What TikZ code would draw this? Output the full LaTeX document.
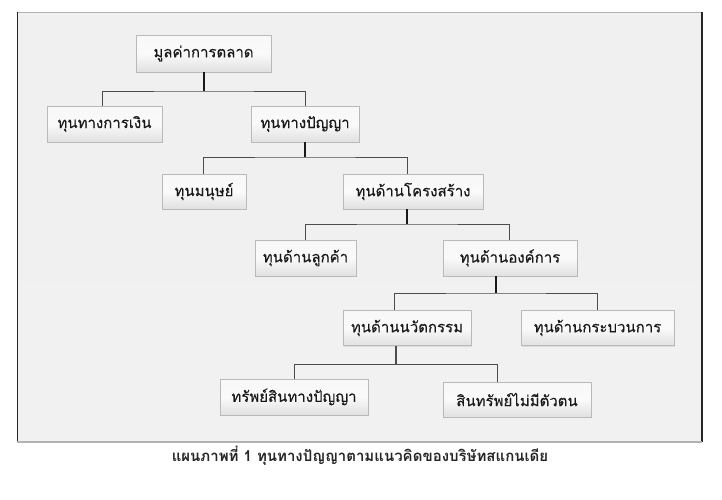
\documentclass[tikz,border=0pt]{standalone}
\usepackage{fontspec}
\newfontfamily\thai[Script=Thai]{Loma}
\newfontfamily\thaibox[Script=Thai,FakeBold=0.25]{Loma}
\usetikzlibrary{shadows,calc}
\tikzset{
  box/.style={rectangle, draw=gray!55, line width=0.6pt, inner sep=0pt,
    top color=gray!6, bottom color=gray!24, middle color=gray!4,
    text=black!90, font=\thaibox\fontsize{15}{18}\selectfont,
    drop shadow={opacity=0.18, shadow xshift=1pt, shadow yshift=-1.2pt}},
  pline/.style={line width=1.8pt, black!90},
  cline/.style={line width=0.8pt, black!70},
}
\begin{document}
\begin{tikzpicture}[x=1pt,y=-1pt]
\useasboundingbox (0,0) rectangle (722,499);
\fill[white] (0,0) rectangle (722,499);
% frame
\path[top color=gray!12, middle color=white, bottom color=gray!11] (17,12) rectangle (702,442);
\draw[gray!60, line width=1pt] (17,12) -- (702,12);
\draw[black!85, line width=1pt] (17,12) -- (17,442);
\draw[black!85, line width=1.2pt] (702,12) -- (702,442);
\draw[gray!60, line width=2pt] (17,442) -- (702,442);
% nodes
\node[box, minimum width=135pt, minimum height=37pt] (n0) at (203.5,53.5) {มูลค่าการตลาด};
\node[box, minimum width=115pt, minimum height=36pt] (n1) at (104.5,124) {ทุนทางการเงิน};
\node[box, minimum width=108pt, minimum height=36pt] (n2) at (305,124) {ทุนทางปัญญา};
\node[box, minimum width=84pt, minimum height=35pt] (n3) at (204,191.5) {ทุนมนุษย์};
\node[box, minimum width=140pt, minimum height=35pt] (n4) at (413,191.5) {ทุนด้านโครงสร้าง};
\node[box, minimum width=101pt, minimum height=36pt] (n6) at (305.5,258) {ทุนด้านลูกค้า};
\node[box, minimum width=134pt, minimum height=36pt] (n5) at (510,258) {ทุนด้านองค์การ};
\node[box, minimum width=128pt, minimum height=35pt] (n7) at (407,328) {ทุนด้านนวัตกรรม};
\node[box, minimum width=153pt, minimum height=35pt] (n8) at (597.5,328) {ทุนด้านกระบวนการ};
\node[box, minimum width=148pt, minimum height=36pt] (n9) at (294,397) {ทรัพย์สินทางปัญญา};
\node[box, minimum width=148pt, minimum height=35pt] (n10) at (517,399.5) {สินทรัพย์ไม่มีตัวตน};
% junctions
\coordinate (j1) at (204,91);
\coordinate (j2) at (305,157);
\coordinate (j3) at (407,224);
\coordinate (j4) at (496,293);
\coordinate (j5) at (396,364);
% connectors
\draw[cline] ([xshift=-2.5pt]n1.north) |- (j1) -| (n2.north);
\draw[pline] (j1) -- (j1 |- n0.south);
\draw[cline] ([xshift=-1pt]n3.north) |- (j2) -| ([xshift=-6pt]n4.north);
\draw[pline] (j2) -- (j2 |- n2.south);
\draw[cline] (n6.north) |- (j3) -| ([xshift=-1pt]n5.north);
\draw[pline] (j3) -- (j3 |- n4.south);
\draw[cline] ([xshift=-13pt]n7.north) |- (j4) -| (n8.north);
\draw[pline] (j4) -- (j4 |- n5.south);
\draw[cline] (n9.north) |- (j5) -| ([xshift=-20pt]n10.north);
\draw[cline, line width=1.1pt] (j5) -- (j5 |- n7.south);
% caption
\node[font=\thai\bfseries\fontsize{15}{17}\selectfont, text=black!85] (cap) at (360,456) {แผนภาพที่ 1 ทุนทางปัญญาตามแนวคิดของบริษัทสแกนเดีย};
\end{tikzpicture}
\end{document}
